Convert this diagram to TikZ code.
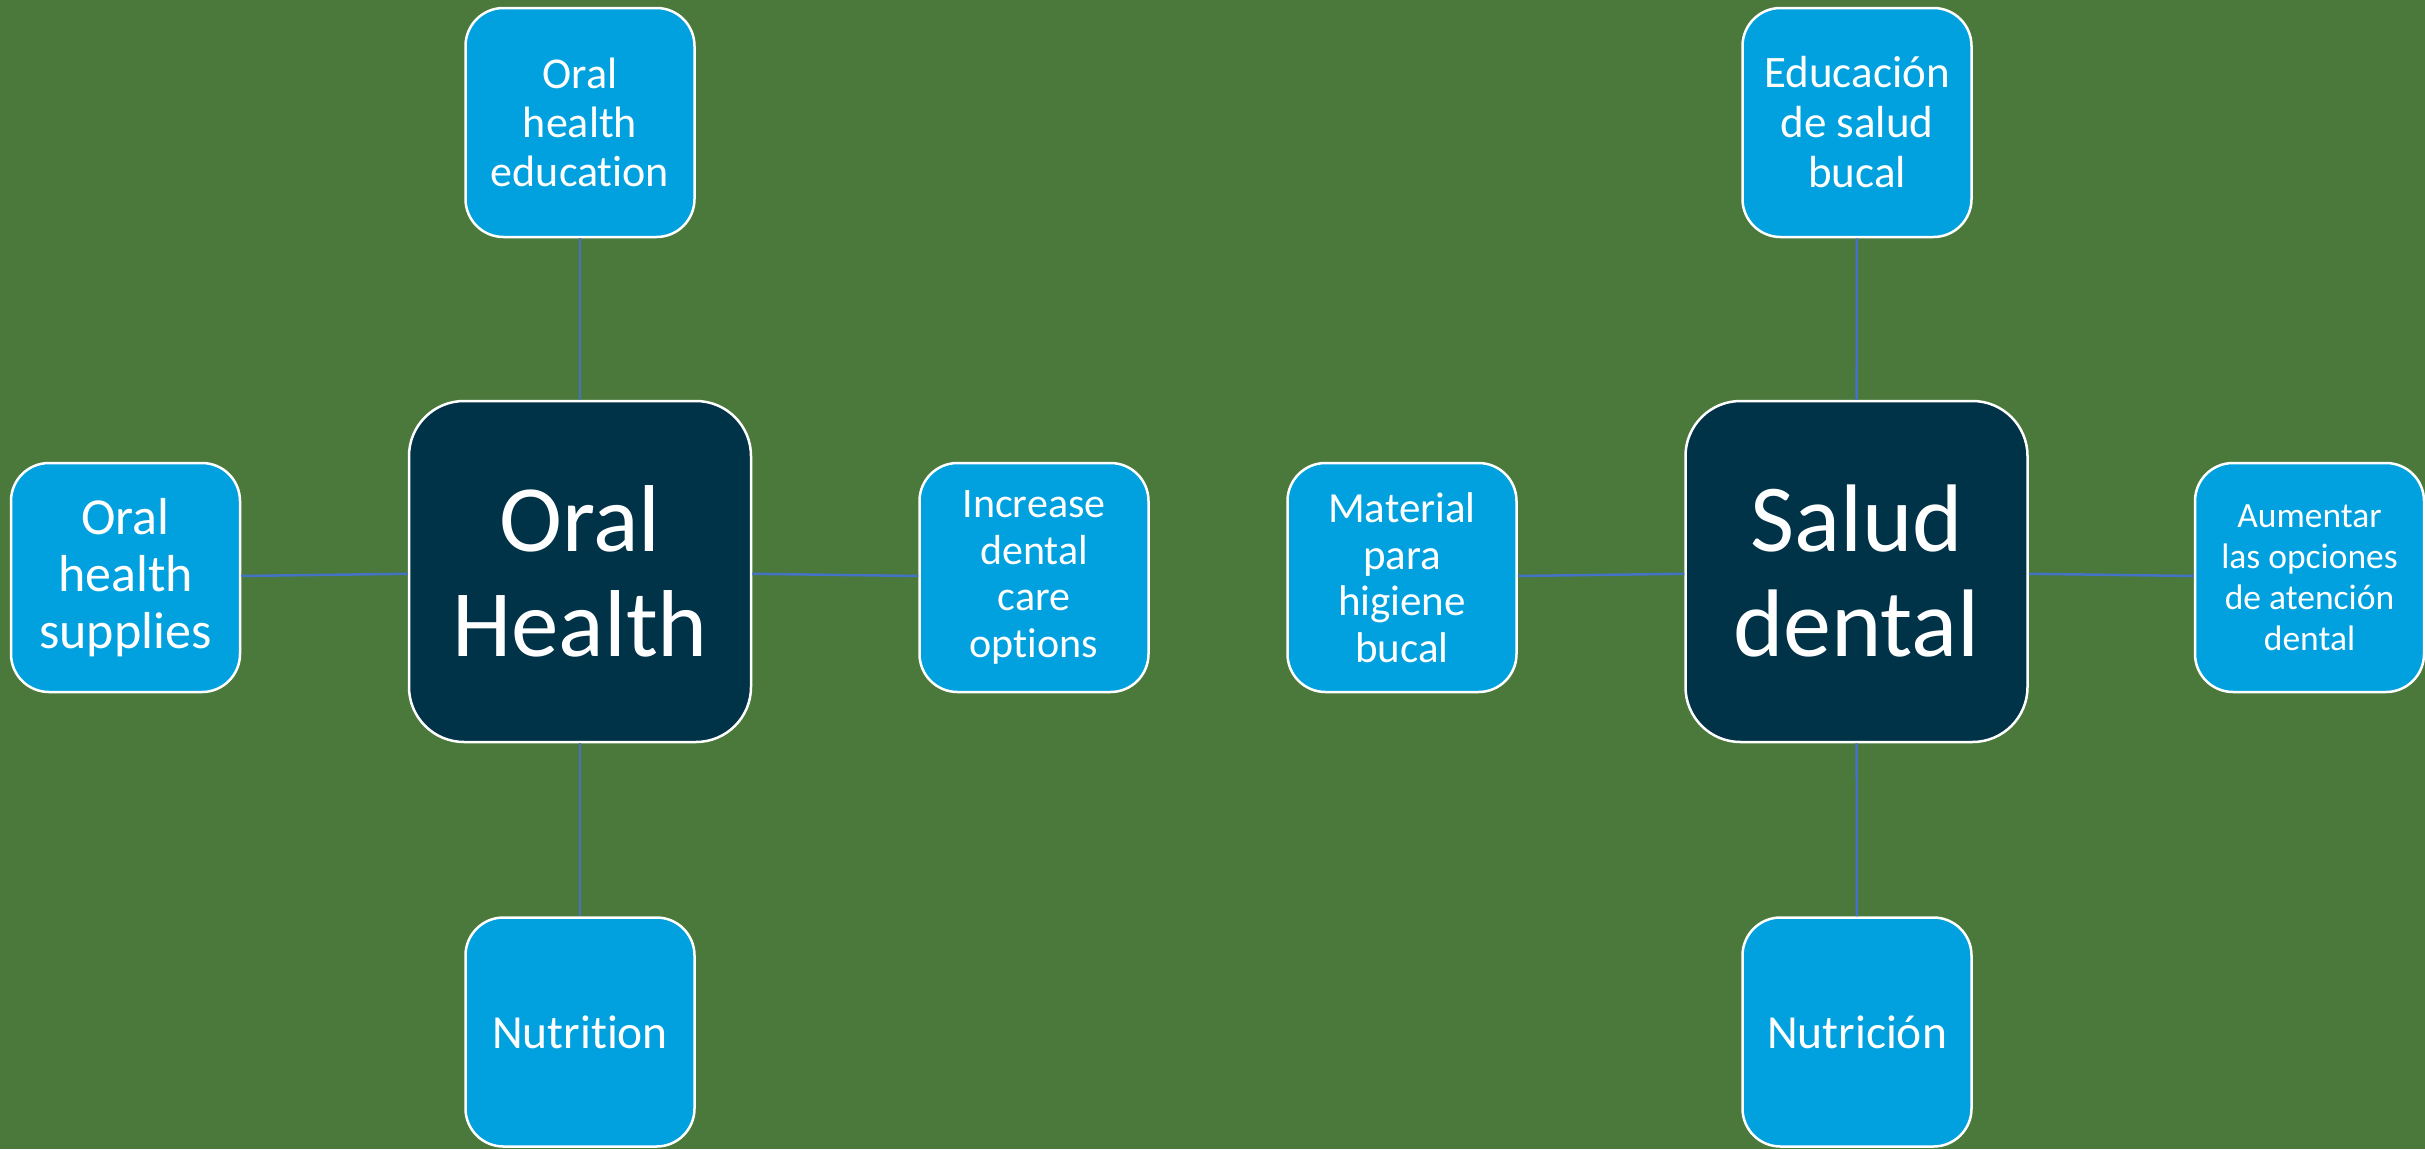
\documentclass[tikz,border=0pt]{standalone}
\usepackage{fontspec}
\setmainfont[Ligatures=NoCommon]{Carlito}
\definecolor{bggreen}{RGB}{74,121,59}
\definecolor{hubnavy}{RGB}{0,50,72}
\definecolor{leafcyan}{RGB}{0,161,222}
\definecolor{linkblue}{RGB}{68,114,196}
\newcommand{\fs}[2]{\fontsize{#1}{#2}\selectfont}
\tikzset{
  hub/.style={draw=white, line width=2.5pt, fill=hubnavy, text=white,
    rounded corners=55pt, minimum width=342pt, minimum height=341pt,
    inner sep=0pt, align=center},
  leaf/.style={draw=white, line width=2.5pt, fill=leafcyan, text=white,
    rounded corners=38pt, minimum width=229pt, minimum height=229pt,
    inner sep=0pt, align=center},
  link/.style={draw=linkblue, line width=2.5pt}
}
\begin{document}
\begin{tikzpicture}[x=1pt, y=-1pt]
  \fill[bggreen] (0,0) rectangle (2425,1149);
  \useasboundingbox (0,0) rectangle (2425,1149);

  % English cluster
  \node[hub, font=\fs{95}{105}]   (oh)  at (580,571.5)   {Oral\\Health};
  \node[leaf, font=\fs{44}{49}]   (ohe) at (580,122.5)   {Oral\\health\\education};
  \node[leaf, font=\fs{52}{57}]   (ohs) at (125.5,577.5) {Oral\\health\\supplies};
  \node[leaf, font=\fs{42}{46.5}] (inc) at (1034,577.5)  {Increase\\dental\\care\\options};
  \node[leaf, font=\fs{47.5}{57}] (nut) at (580,1032)    {Nutrition};

  % Spanish cluster
  \node[hub, font=\fs{96}{105}]   (sd)  at (1856.5,571.5){Salud\\dental};
  \node[leaf, font=\fs{45}{50}]   (edu) at (1857,122.5)  {Educación\\de salud\\bucal};
  \node[leaf, font=\fs{43}{46.5}] (mat) at (1402,577.5)  {Material\\para\\higiene\\bucal};
  \node[leaf, font=\fs{35.5}{41}] (aum) at (2309.5,577.5){Aumentar\\las opciones\\de atención\\dental};
  \node[leaf, font=\fs{47.5}{57}] (nuc) at (1857,1032)   {Nutrición};

  % connectors
  \draw[link] (ohe) -- (oh);
  \draw[link] (ohs) -- (oh);
  \draw[link] (inc) -- (oh);
  \draw[link] (nut) -- (oh);
  \draw[link] (edu) -- (sd);
  \draw[link] (mat) -- (sd);
  \draw[link] (aum) -- (sd);
  \draw[link] (nuc) -- (sd);
\end{tikzpicture}
\end{document}
